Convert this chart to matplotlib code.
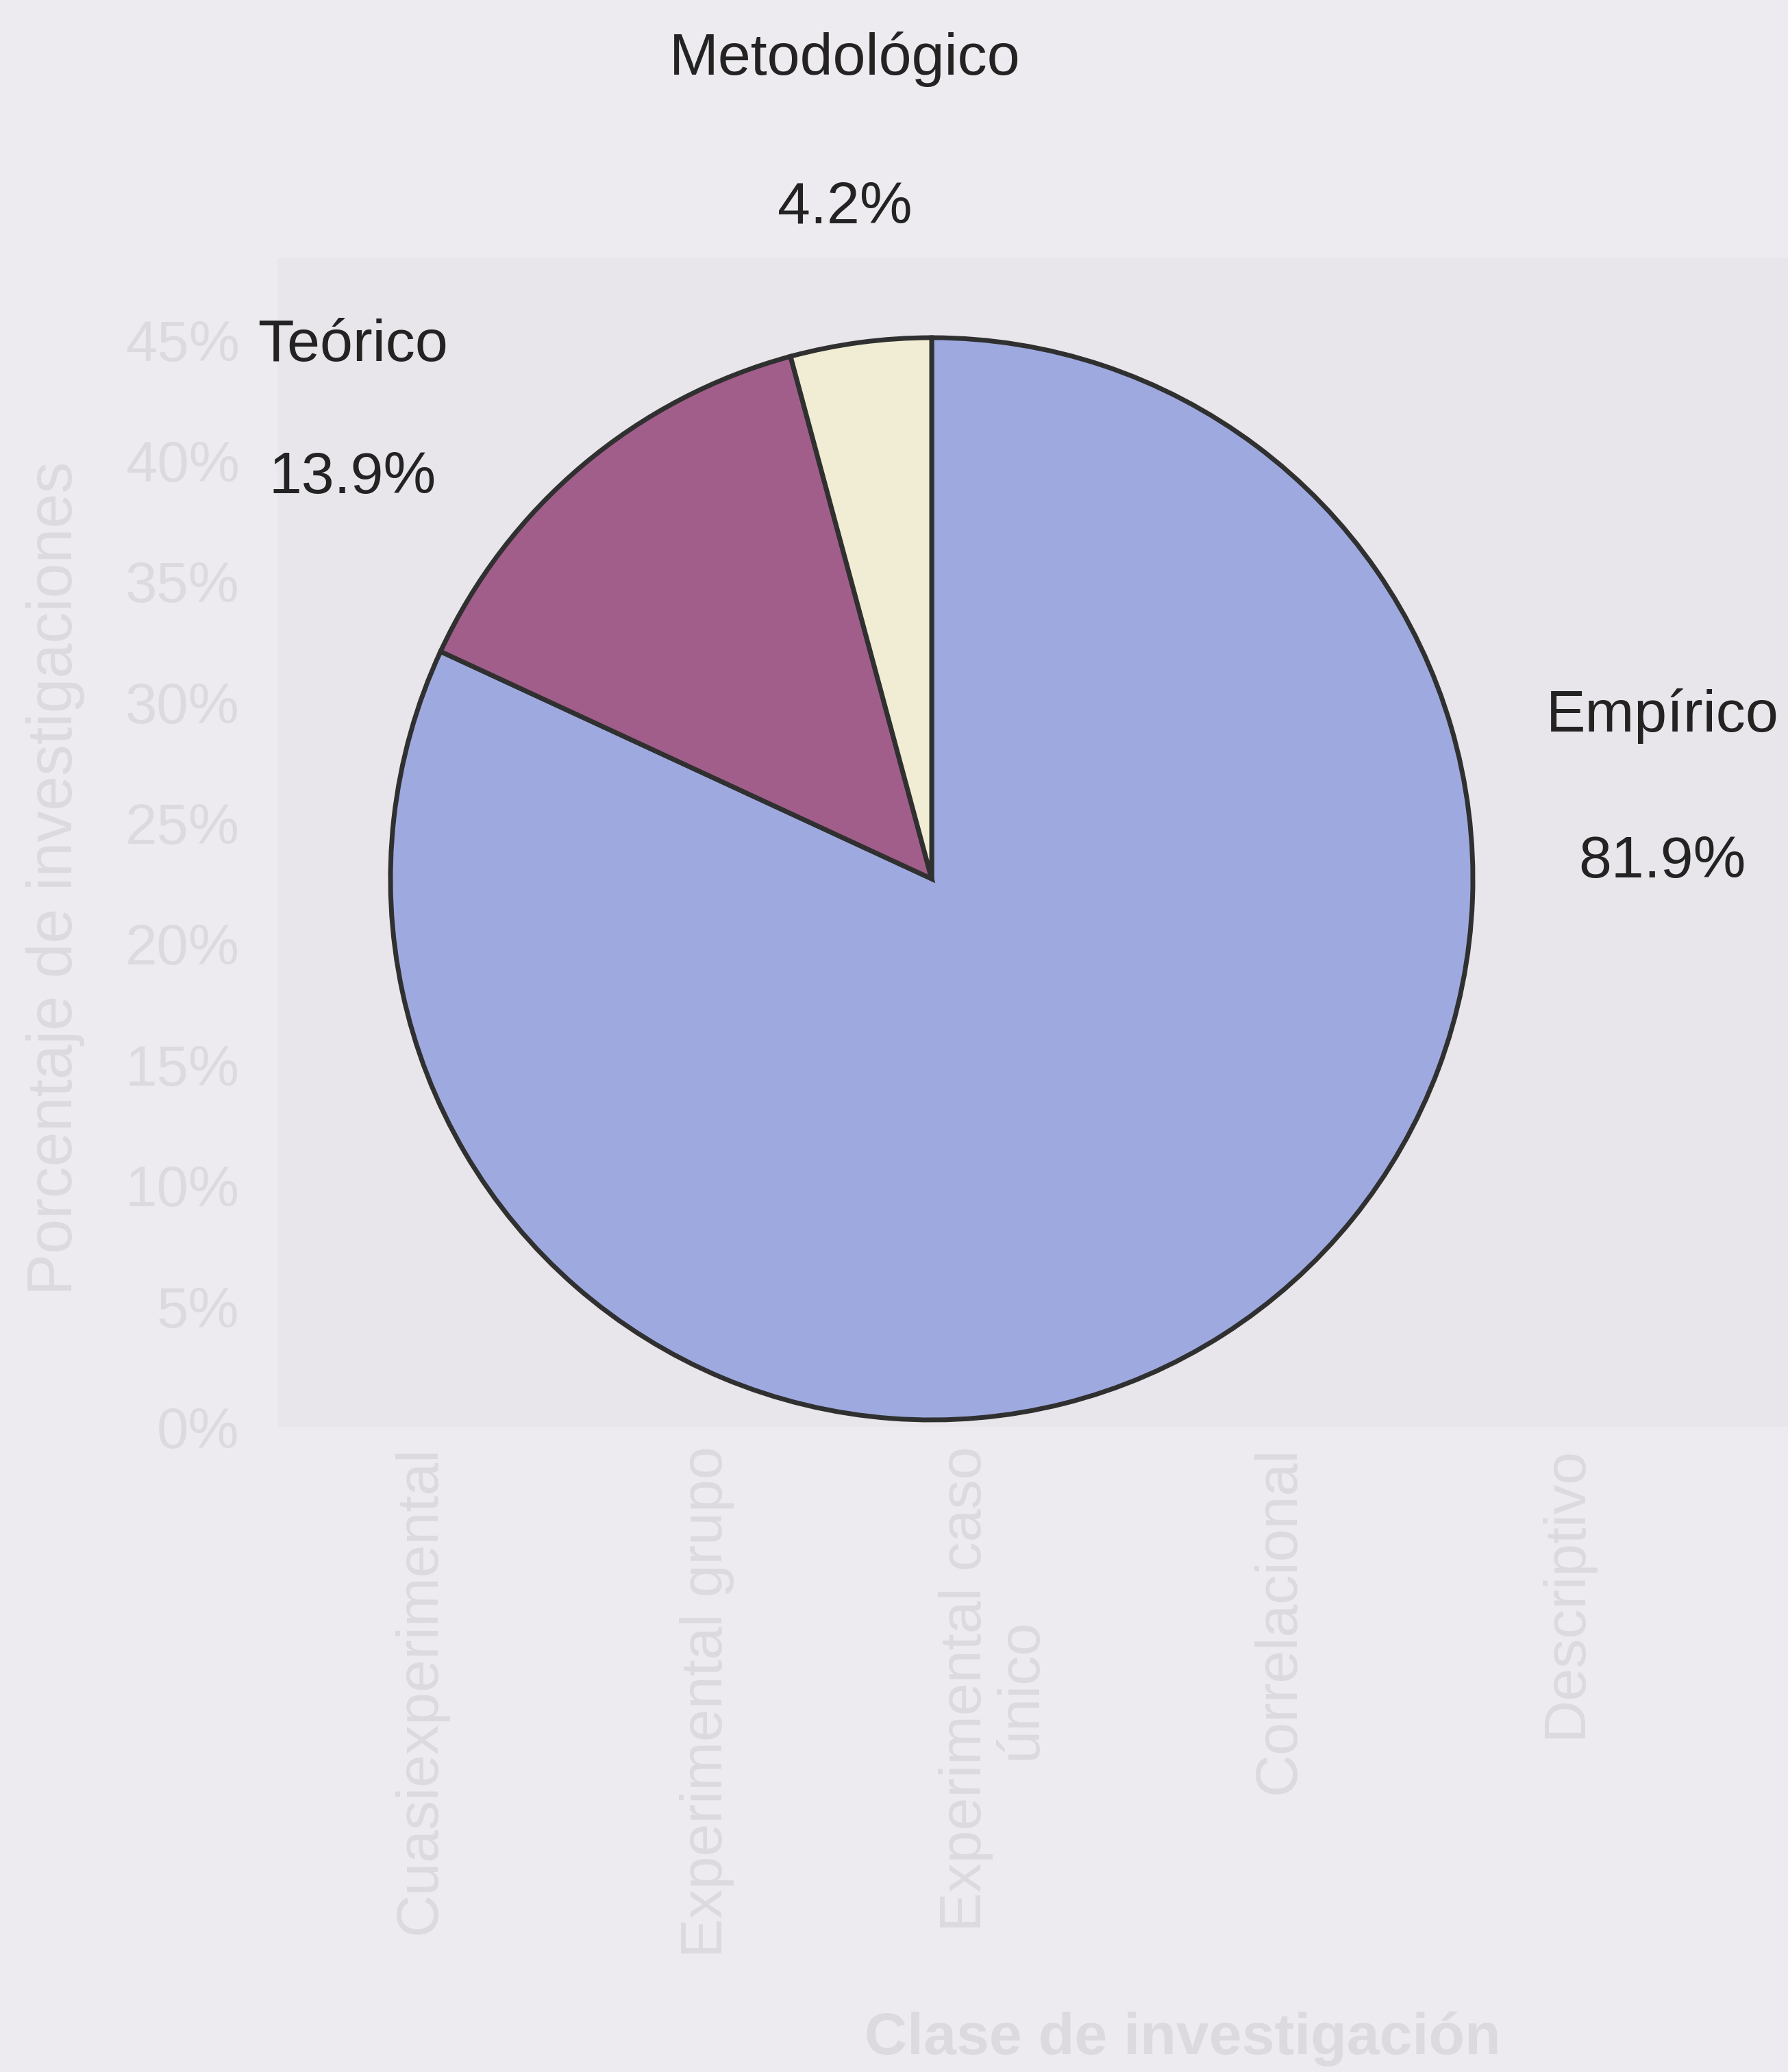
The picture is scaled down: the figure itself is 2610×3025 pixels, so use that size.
import matplotlib
matplotlib.use("Agg")
import matplotlib.pyplot as plt

plt.rcParams["font.family"] = ["Liberation Sans", "DejaVu Sans"]

# ── Data ──────────────────────────────────────────────────────────────────────
categories = ["Empírico", "Teórico", "Metodológico"]
shares     = [81.9, 13.9, 4.2]
colors     = ["#9eaadf", "#a25e8b", "#f1edd5"]

# faint bar chart showing through the page
bg_classes = ["Cuasiexperimental", "Experimental grupo", "Experimental caso\núnico",
              "Correlacional", "Descriptivo"]
bg_ticks   = [0, 5, 10, 15, 20, 25, 30, 35, 40, 45]

PAPER = "#edebef"
GHOST = "#dcdadf"
INK   = "#232323"

W, H = 2610, 3025
fig = plt.figure(figsize=(W / 100, H / 100), dpi=100, facecolor=PAPER)

# ── Ghost axes (bleed-through) ────────────────────────────────────────────────
s = 2610 / 1353  # reference shown shrunk
def fx(px): return px * s / W
def fy(py): return 1 - py * s / H

axg = fig.add_axes([fx(210), fy(1080), fx(1510) - fx(210), fy(195) - fy(1080)])
axg.set_facecolor("#e8e6ea")
axg.set_xlim(-0.5, 5.5)
axg.set_ylim(0, 48.4)
axg.set_yticks(bg_ticks)
axg.set_yticklabels([f"{t}%" for t in bg_ticks], fontsize=60, color=GHOST)
axg.set_xticks(range(len(bg_classes)))
axg.set_xticklabels(bg_classes, rotation=90, fontsize=62, color=GHOST,
                    va="top", ha="center", linespacing=1.0)
axg.tick_params(axis="x", length=0, pad=20)
axg.tick_params(axis="y", length=0, pad=40)
for sp in axg.spines.values():
    sp.set_visible(False)
axg.set_ylabel("Porcentaje de investigaciones", fontsize=66, color=GHOST)
axg.yaxis.set_label_coords(-0.112, 0.469)
axg.set_xlabel("Clase de investigación", fontsize=62, fontweight="bold", color=GHOST)
axg.xaxis.set_label_coords((895 - 210) / 1300, -0.50)

# ── Pie ───────────────────────────────────────────────────────────────────────
cx, cy, r = 1360, 1283, 790
ax = fig.add_axes([(cx - r) / W, 1 - (cy + r) / H, 2 * r / W, 2 * r / H])
ax.pie(shares, colors=colors, startangle=90, counterclock=False, radius=1,
       wedgeprops=dict(edgecolor="#2f302f", linewidth=5.0))
ax.set_xlim(-1, 1)
ax.set_ylim(-1, 1)
ax.set_aspect("equal")
ax.axis("off")

# label positions (pie units), name on top, value below
label_pos = {
    "Empírico":     (1.35, 0.30, 0.03),
    "Teórico":      (-1.07, 0.985, 0.74),
    "Metodológico": (-0.16, 1.515, 1.24),
}
for name, val in zip(categories, shares):
    x, y_name, y_val = label_pos[name]
    ax.text(x, y_name, name, ha="center", va="center", fontsize=62,
            color=INK, clip_on=False)
    ax.text(x, y_val, f"{val:.1f}%", ha="center", va="center", fontsize=62,
            color=INK, clip_on=False)

plt.savefig("out.png", dpi=100, facecolor=PAPER)
